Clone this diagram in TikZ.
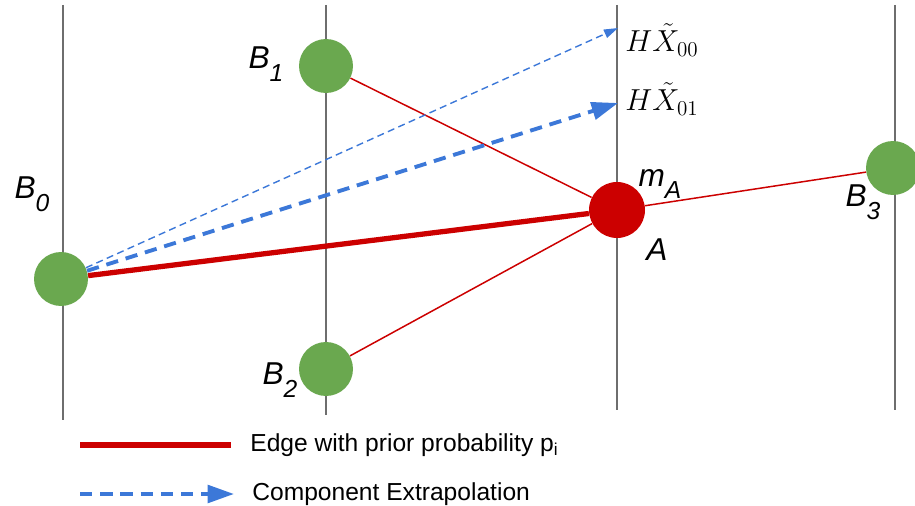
\documentclass[tikz,border=0pt]{standalone}
\usepackage{fontspec}
\usepackage{amsmath}
\setsansfont{Liberation Sans}
\usetikzlibrary{arrows.meta, positioning}
\definecolor{myred}{RGB}{204,0,0}
\definecolor{mygreen}{RGB}{106,168,79}
\definecolor{myblue}{RGB}{60,120,216}
\definecolor{mygrey}{RGB}{110,110,110}
\newcommand{\lowsub}[1]{\raisebox{-0.75ex}{\fontsize{14}{14}\selectfont #1}}
\tikzset{
  bnode/.style={circle, fill=mygreen, minimum size=1.08cm, inner sep=0pt},
  anode/.style={circle, fill=myred, minimum size=1.12cm, inner sep=0pt},
  vline/.style={line width=1.1pt, color=mygrey},
  thickedge/.style={line width=3pt, color=myred},
  thinedge/.style={line width=0.85pt, color=myred},
  extra/.style={line width=0.8pt, color=myblue, dash pattern=on 4pt off 2.5pt, -{Triangle[length=8pt, width=5pt]}},
  bigextra/.style={line width=2.2pt, color=myblue, dash pattern=on 7pt off 4.5pt, -{Triangle[length=15pt, width=10pt]}},
  lbl/.style={font=\fontsize{18}{20}\selectfont\sffamily\itshape},
  hxlbl/.style={font=\fontsize{17}{19}\selectfont, anchor=west, inner sep=0pt},
  legtext/.style={font=\fontsize{14}{16}\selectfont\sffamily, anchor=west, inner sep=0pt}
}

\begin{document}
\begin{tikzpicture}[x=0.02cm, y=-0.02cm]
  \useasboundingbox (0,0) rectangle (915,506);
  \clip (0,0) rectangle (915,506);

  % Time lines
  \draw[vline] (63,5) -- (63,420);
  \draw[vline] (326,5) -- (326,415);
  \draw[vline] (617,5) -- (617,410);
  \draw[vline] (895,5) -- (895,410);

  % Components
  \node[bnode] (b0) at (61,279) {};
  \node[bnode] (b1) at (326,66) {};
  \node[bnode] (b2) at (326,369) {};
  \node[anode] (a) at (617,210) {};
  \node[bnode] (b3) at (893,168) {};

  \node[lbl] (b0lbl) at (32,194) {B\lowsub{0}};
  \node[lbl] (b1lbl) at (266,64) {B\lowsub{1}};
  \node[lbl] (b2lbl) at (280,380) {B\lowsub{2}};
  \node[lbl] (b3lbl) at (863,202) {B\lowsub{3}};
  \node[lbl] (malbl) at (660,184) {m\lowsub{A}};
  \node[lbl] (albl) at (657,250) {A};

  % Edges with prior probability
  \draw[thickedge] (b0) -- (a);
  \draw[thinedge] (b1) -- (a);
  \draw[thinedge] (b2) -- (a);
  \draw[thinedge] (a) -- (b3);

  % Component extrapolation
  \coordinate (hx00) at (618,28);
  \coordinate (hx01) at (618,103);
  \draw[extra] (b0) -- (hx00);
  \draw[bigextra] (b0) -- (hx01);
  \node[hxlbl] (hx00lbl) at (625,40) {$H\tilde{X}_{00}$};
  \node[hxlbl] (hx01lbl) at (625,99) {$H\tilde{X}_{01}$};

  % Legend
  \coordinate (leg1a) at (80,445);
  \coordinate (leg1b) at (231,445);
  \coordinate (leg2a) at (80,494);
  \coordinate (leg2b) at (234,494);
  \draw[thickedge] (leg1a) -- (leg1b);
  \draw[bigextra] (leg2a) -- (leg2b);
  \node[legtext] (leg1) at (250,445) {Edge with prior probability p\textsubscript{i}};
  \node[legtext] (leg2) at (252,494) {Component Extrapolation};
\end{tikzpicture}
\end{document}
